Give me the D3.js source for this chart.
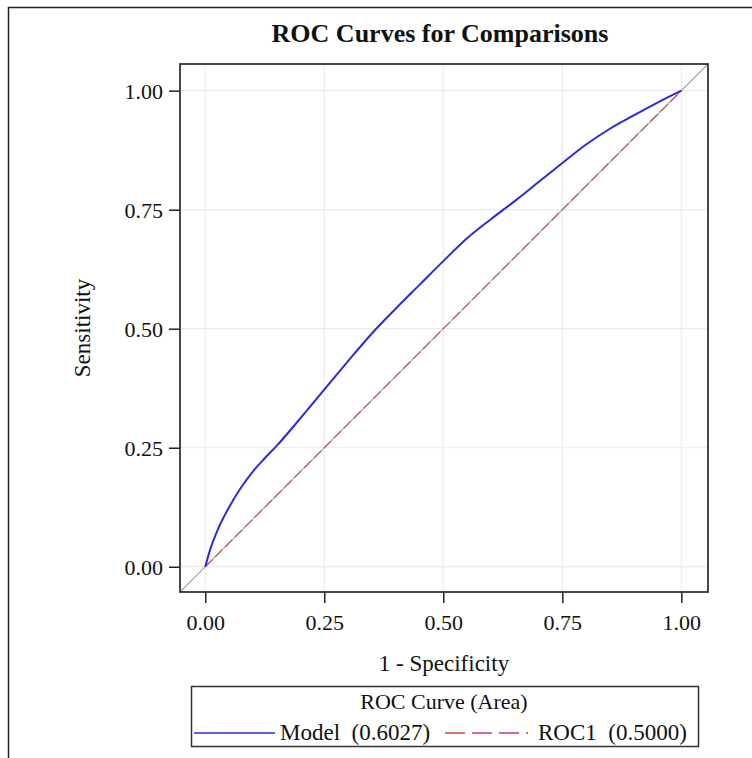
<!DOCTYPE html>
<html>
<head>
<meta charset="utf-8">
<script src="https://cdn.jsdelivr.net/npm/d3@7"></script>
<style>
    body { margin: 0; background: #fff; }
    svg text { font-family: "Liberation Serif", "DejaVu Serif", serif; fill: #111; }
</style>
</head>
<body>
<div id="chart"></div>
<script>
// values
const modelFpr = [0, 0.01, 0.025, 0.05, 0.075, 0.1, 0.125, 0.15, 0.2, 0.25, 0.3, 0.35, 0.4, 0.45,
    0.5, 0.55, 0.6, 0.65, 0.7, 0.75, 0.8, 0.85, 0.9, 0.95, 1];
const modelTpr = [0, 0.035, 0.075, 0.125, 0.166, 0.2, 0.228, 0.254, 0.312, 0.372, 0.432, 0.49, 0.542, 0.592,
    0.642, 0.69, 0.73, 0.768, 0.808, 0.848, 0.887, 0.92, 0.948, 0.975, 1];
const roc1Fpr = [0, 1];
const roc1Tpr = [0, 1];
const tickValues = [0, 0.25, 0.5, 0.75, 1];
const legendNames = ["Model  (0.6027)", "ROC1  (0.5000)"];

const width = 752, height = 758;
const margin = {left: 180, top: 64, right: 44, bottom: 166};
const plotW = width - margin.left - margin.right;
const plotH = height - margin.top - margin.bottom;

const svg = d3.select('#chart')
    .append('svg')
    .attr('width', width)
    .attr('height', height);

// outer frame (only left and top visible in the reference)
svg.append('path')
    .attr('d', `M8.5,${height + 2}V7.5H${width + 2}`)
    .attr('fill', 'none')
    .attr('stroke', '#222')
    .attr('stroke-width', 1.5);

const x = d3.scaleLinear().domain([-0.053, 1.056]).range([0, plotW]);
const y = d3.scaleLinear().domain([-0.053, 1.056]).range([plotH, 0]);

const g = svg.append('g')
    .attr('transform', `translate(${margin.left},${margin.top})`);

// grid lines
g.append('g')
    .selectAll('line')
    .data(tickValues)
    .enter()
    .append('line')
    .attr('x1', d => x(d)).attr('x2', d => x(d))
    .attr('y1', 0).attr('y2', plotH)
    .attr('stroke', '#e8e8e8');
g.append('g')
    .selectAll('line')
    .data(tickValues)
    .enter()
    .append('line')
    .attr('y1', d => y(d)).attr('y2', d => y(d))
    .attr('x1', 0).attr('x2', plotW)
    .attr('stroke', '#e8e8e8');

// chance diagonal across the whole plot area
g.append('line')
    .attr('x1', x(x.domain()[0])).attr('y1', y(y.domain()[0]))
    .attr('x2', x(x.domain()[1])).attr('y2', y(y.domain()[1]))
    .attr('stroke', '#a8a8a8')
    .attr('stroke-width', 1.2);

const line = d3.line()
    .x(d => x(d[0]))
    .y(d => y(d[1]));

g.append('path')
    .datum(d3.zip(roc1Fpr, roc1Tpr))
    .attr('d', line)
    .attr('fill', 'none')
    .attr('stroke', '#c0505a')
    .attr('stroke-width', 1.2)
    .attr('stroke-dasharray', '10,4');

g.append('path')
    .datum(d3.zip(modelFpr, modelTpr))
    .attr('d', line.curve(d3.curveMonotoneX))
    .attr('fill', 'none')
    .attr('stroke', '#2b2bd6')
    .attr('stroke-width', 2);

// axes
const xAxis = g.append('g')
    .attr('transform', `translate(0,${plotH})`)
    .call(d3.axisBottom(x).tickValues(tickValues).tickFormat(d3.format('.2f')).tickSize(11));
const yAxis = g.append('g')
    .call(d3.axisLeft(y).tickValues(tickValues).tickFormat(d3.format('.2f')).tickSize(11).tickPadding(6));

[xAxis, yAxis].forEach(a => {
    a.select('.domain').remove();
    a.selectAll('line').attr('stroke', '#222').attr('stroke-width', 1.5);
    a.selectAll('text').style('font-size', '22px').attr('fill', '#111');
});
xAxis.selectAll('text').attr('y', 38).attr('dy', 0);
yAxis.selectAll('text').attr('dy', '0.35em');

// plot frame
g.append('rect')
    .attr('width', plotW)
    .attr('height', plotH)
    .attr('fill', 'none')
    .attr('stroke', '#333')
    .attr('stroke-width', 1.8);

// title and axis labels
svg.append('text')
    .attr('x', 440)
    .attr('y', 42)
    .attr('text-anchor', 'middle')
    .style('font-size', '26px')
    .style('font-weight', 'bold')
    .text('ROC Curves for Comparisons');

svg.append('text')
    .attr('x', margin.left + plotW / 2)
    .attr('y', 671)
    .attr('text-anchor', 'middle')
    .style('font-size', '23px')
    .text('1 - Specificity');

svg.append('text')
    .attr('transform', `translate(90,${margin.top + plotH / 2}) rotate(-90)`)
    .attr('text-anchor', 'middle')
    .style('font-size', '23px')
    .text('Sensitivity');

// legend
const legend = svg.append('g');
legend.append('rect')
    .attr('x', 191.5).attr('y', 686.5)
    .attr('width', 507).attr('height', 60)
    .attr('fill', 'none')
    .attr('stroke', '#333')
    .attr('stroke-width', 1.5);
legend.append('text')
    .attr('x', 444).attr('y', 709)
    .attr('text-anchor', 'middle')
    .style('font-size', '22px')
    .text('ROC Curve (Area)');

legend.append('line')
    .attr('x1', 194).attr('x2', 275).attr('y1', 733).attr('y2', 733)
    .attr('stroke', '#2b2bd6').attr('stroke-width', 1.5);
legend.append('text')
    .attr('x', 280).attr('y', 740)
    .style('font-size', '23px')
    .style('white-space', 'pre')
    .text(legendNames[0]);
legend.append('line')
    .attr('x1', 445).attr('x2', 528).attr('y1', 733).attr('y2', 733)
    .attr('stroke', '#c8404f').attr('stroke-width', 1.3)
    .attr('stroke-dasharray', '20,7,20,7,20,7,2,20');
legend.append('text')
    .attr('x', 538).attr('y', 740)
    .style('font-size', '23px')
    .style('white-space', 'pre')
    .text(legendNames[1]);
</script>
</body>
</html>
